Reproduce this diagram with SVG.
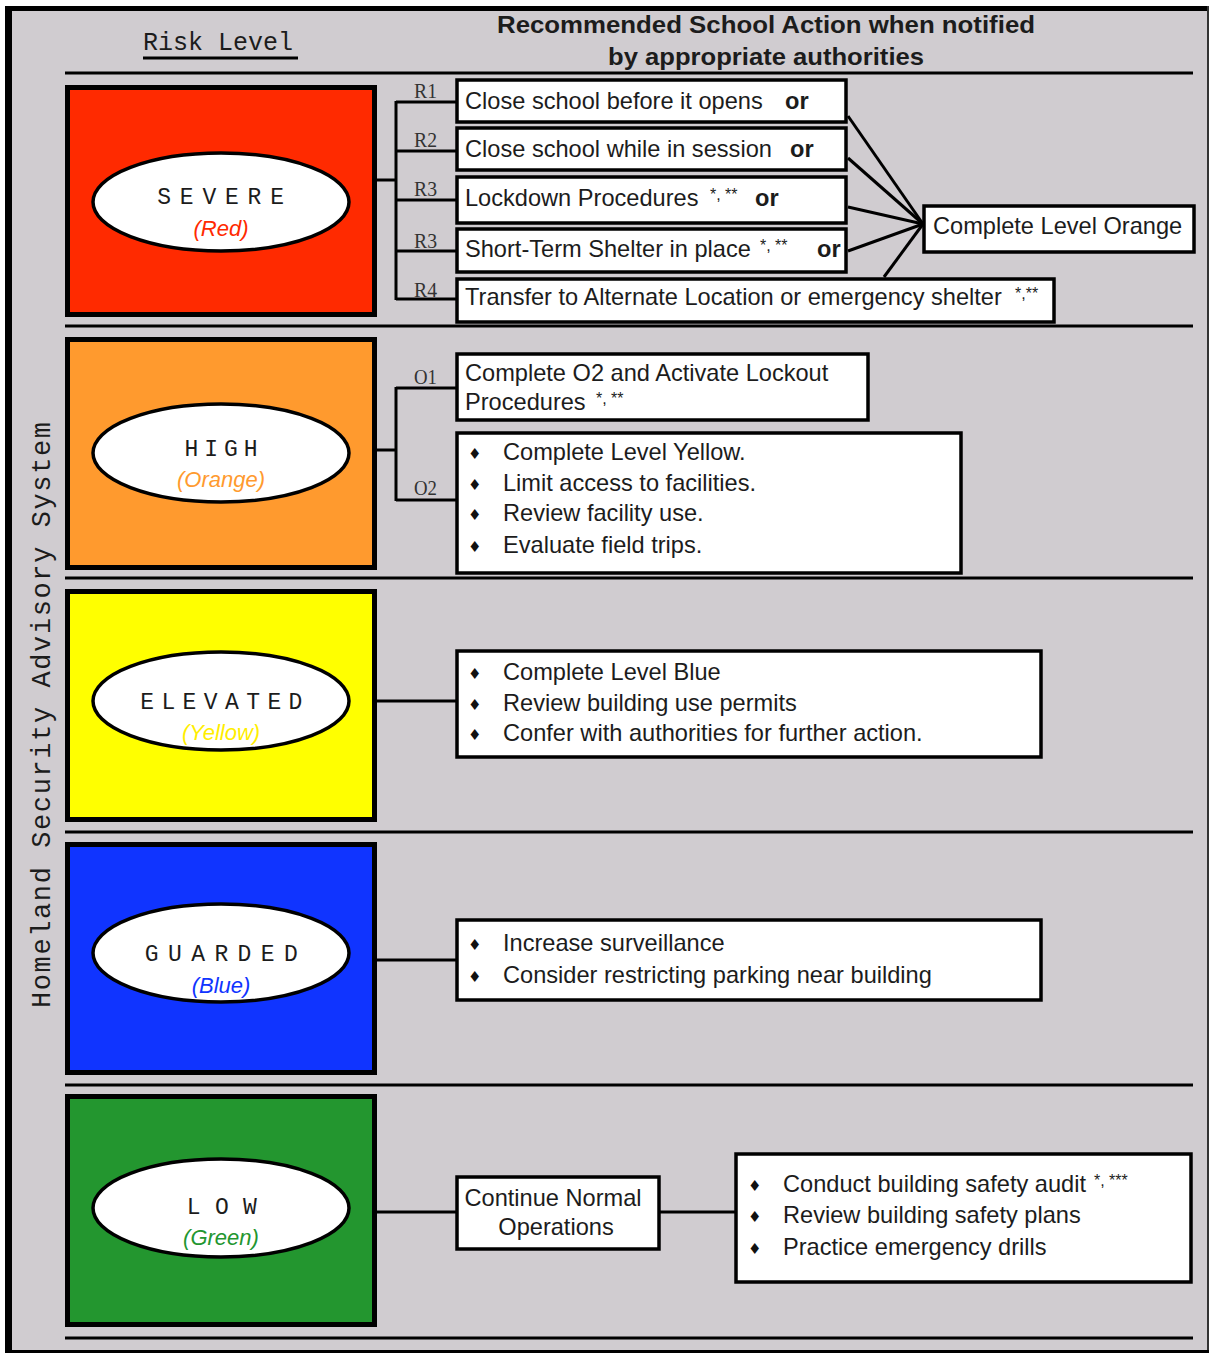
<svg xmlns="http://www.w3.org/2000/svg" width="1209" height="1353" viewBox="0 0 1209 1353">
<style>
.sans{font-family:"Liberation Sans",Arial,sans-serif;fill:#1c1c1c;font-size:23.6px}
.mono{font-family:"Liberation Mono","Courier New",monospace;fill:#1c1c1c}
.serif{font-family:"Liberation Serif","Times New Roman",serif;fill:#333;font-size:21px}
.lvl{stroke:#000;stroke-width:5}
.ell{fill:#fff;stroke:#000;stroke-width:3.5}
.box{fill:#fff;stroke:#000;stroke-width:3.5}
.sep{stroke:#000;stroke-width:3}
.con{stroke:#000;stroke-width:3;fill:none}
.sub{font-family:"Liberation Sans",Arial,sans-serif;font-style:italic;font-size:22px}
.word{font-family:"Liberation Mono","Courier New",monospace;font-size:23px;fill:#1c1c1c}
.bul{font-family:"DejaVu Sans",sans-serif;font-size:15px;fill:#111}
.sm{font-size:16px}
.b{font-weight:bold}
</style>
<rect x="0" y="0" width="1209" height="1353" fill="#fff"/>
<rect x="5" y="6" width="1204" height="1347" fill="#d0ccd0"/>
<rect x="5" y="6" width="7" height="1347" fill="#000"/>
<rect x="5" y="6" width="1204" height="5" fill="#000"/>
<rect x="1207" y="6" width="2" height="1347" fill="#333"/>
<rect x="5" y="1350" width="1204" height="3" fill="#000"/>

<g id="header">
<text class="mono" x="143" y="50" font-size="25">Risk Level</text>
<line x1="143" y1="58" x2="298" y2="58" stroke="#000" stroke-width="3"/>
<text class="sans b" x="497" y="33" font-size="25" textLength="538" lengthAdjust="spacingAndGlyphs">Recommended School Action when notified</text>
<text class="sans b" x="608" y="65" font-size="25" textLength="316" lengthAdjust="spacingAndGlyphs">by appropriate authorities</text>
<text class="mono" transform="translate(50,715) rotate(-90)" font-size="27" text-anchor="middle" textLength="586" lengthAdjust="spacing">Homeland Security Advisory System</text>
</g>

<g id="separators">
<line class="sep" x1="65" y1="73" x2="1193" y2="73"/>
<line class="sep" x1="65" y1="326" x2="1193" y2="326"/>
<line class="sep" x1="65" y1="578" x2="1193" y2="578"/>
<line class="sep" x1="65" y1="832" x2="1193" y2="832"/>
<line class="sep" x1="65" y1="1085" x2="1193" y2="1085"/>
<line class="sep" x1="65" y1="1338" x2="1193" y2="1338"/>
</g>

<g id="connectors">
<line class="con" x1="375" y1="180" x2="396" y2="180"/>
<line class="con" x1="396" y1="101" x2="396" y2="300"/>
<line class="con" x1="396" y1="102" x2="457" y2="102"/>
<line class="con" x1="396" y1="151" x2="457" y2="151"/>
<line class="con" x1="396" y1="200" x2="457" y2="200"/>
<line class="con" x1="396" y1="251" x2="457" y2="251"/>
<line class="con" x1="396" y1="299" x2="457" y2="299"/>
<line class="con" x1="848" y1="116" x2="923" y2="224"/>
<line class="con" x1="848" y1="158" x2="923" y2="224"/>
<line class="con" x1="848" y1="207" x2="923" y2="224"/>
<line class="con" x1="848" y1="251" x2="923" y2="224"/>
<line class="con" x1="884" y1="277" x2="923" y2="224"/>
<line class="con" x1="375" y1="450" x2="396" y2="450"/>
<line class="con" x1="396" y1="387" x2="396" y2="501"/>
<line class="con" x1="396" y1="388" x2="457" y2="388"/>
<line class="con" x1="396" y1="500" x2="457" y2="500"/>
<line class="con" x1="375" y1="701" x2="457" y2="701"/>
<line class="con" x1="375" y1="960" x2="457" y2="960"/>
<line class="con" x1="375" y1="1212" x2="457" y2="1212"/>
<line class="con" x1="660" y1="1212" x2="736" y2="1212"/>
<text class="serif" x="414" y="98" textLength="23" lengthAdjust="spacingAndGlyphs">R1</text>
<text class="serif" x="414" y="147" textLength="23" lengthAdjust="spacingAndGlyphs">R2</text>
<text class="serif" x="414" y="196" textLength="23" lengthAdjust="spacingAndGlyphs">R3</text>
<text class="serif" x="414" y="248" textLength="23" lengthAdjust="spacingAndGlyphs">R3</text>
<text class="serif" x="414" y="297" textLength="23" lengthAdjust="spacingAndGlyphs">R4</text>
<text class="serif" x="414" y="384" textLength="23" lengthAdjust="spacingAndGlyphs">O1</text>
<text class="serif" x="414" y="495" textLength="23" lengthAdjust="spacingAndGlyphs">O2</text>
</g>

<g id="severe">
<rect class="lvl" x="67.5" y="87.5" width="307" height="227" fill="#ff2a00"/>
<ellipse class="ell" cx="221" cy="202" rx="128" ry="49"/>
<text class="word" x="225" y="204" text-anchor="middle" letter-spacing="8.8">SEVERE</text>
<text class="sub" x="221" y="236" text-anchor="middle" fill="#ff2a00">(Red)</text>
</g>
<g id="high">
<rect class="lvl" x="67.5" y="339.5" width="307" height="228" fill="#ff9a2e"/>
<ellipse class="ell" cx="221" cy="453" rx="128" ry="49"/>
<text class="word" x="224" y="456" text-anchor="middle" letter-spacing="5.9">HIGH</text>
<text class="sub" x="221" y="487" text-anchor="middle" fill="#ff9a2e">(Orange)</text>
</g>
<g id="elevated">
<rect class="lvl" x="67.5" y="591.5" width="307" height="228" fill="#ffff00"/>
<ellipse class="ell" cx="221" cy="701" rx="128" ry="49"/>
<text class="word" x="225" y="709" text-anchor="middle" letter-spacing="7.4">ELEVATED</text>
<text class="sub" x="221" y="740" text-anchor="middle" fill="#ffee00">(Yellow)</text>
</g>
<g id="guarded">
<rect class="lvl" x="67.5" y="844.5" width="307" height="228" fill="#1034ff"/>
<ellipse class="ell" cx="221" cy="953" rx="128" ry="49"/>
<text class="word" x="226" y="961" text-anchor="middle" letter-spacing="9.4">GUARDED</text>
<text class="sub" x="221" y="993" text-anchor="middle" fill="#1034ff">(Blue)</text>
</g>
<g id="low">
<rect class="lvl" x="67.5" y="1096.5" width="307" height="228" fill="#23962f"/>
<ellipse class="ell" cx="221" cy="1208" rx="128" ry="49"/>
<text class="word" x="229" y="1214" text-anchor="middle" letter-spacing="14.3">LOW</text>
<text class="sub" x="221" y="1245" text-anchor="middle" fill="#23962f">(Green)</text>
</g>

<g id="r1">
<rect class="box" x="457" y="80" width="389" height="42"/>
<text class="sans" x="465" y="109">Close school before it opens<tspan class="b" x="785">or</tspan></text>
</g>
<g id="r2">
<rect class="box" x="457" y="128" width="389" height="42"/>
<text class="sans" x="465" y="157">Close school while in session<tspan class="b" x="790">or</tspan></text>
</g>
<g id="r3a">
<rect class="box" x="457" y="177" width="389" height="46"/>
<text class="sans" x="465" y="206">Lockdown Procedures<tspan class="sm" x="710" dy="-6">*, **</tspan><tspan class="b" x="755" dy="6">or</tspan></text>
</g>
<g id="r3b">
<rect class="box" x="457" y="229" width="389" height="43"/>
<text class="sans" x="465" y="257">Short-Term Shelter in place<tspan class="sm" x="760" dy="-6">*, **</tspan><tspan class="b" x="817" dy="6">or</tspan></text>
</g>
<g id="r4">
<rect class="box" x="457" y="279" width="597" height="43"/>
<text class="sans" x="465" y="305">Transfer to Alternate Location or emergency shelter<tspan class="sm" x="1015" dy="-6">*,**</tspan></text>
</g>
<g id="orange-complete">
<rect class="box" x="924" y="206" width="270" height="46"/>
<text class="sans" x="933" y="234">Complete Level Orange</text>
</g>

<g id="o1">
<rect class="box" x="457" y="354" width="411" height="66"/>
<text class="sans" x="465" y="381">Complete O2 and Activate Lockout</text>
<text class="sans" x="465" y="410">Procedures <tspan class="sm" x="596" dy="-6">*, **</tspan></text>
</g>
<g id="o2">
<rect class="box" x="457" y="433" width="504" height="140"/>
<text class="bul" x="468" y="459">♦</text><text class="sans" x="503" y="460">Complete Level Yellow.</text>
<text class="bul" x="468" y="490">♦</text><text class="sans" x="503" y="491">Limit access to facilities.</text>
<text class="bul" x="468" y="520">♦</text><text class="sans" x="503" y="521">Review facility use.</text>
<text class="bul" x="468" y="552">♦</text><text class="sans" x="503" y="553">Evaluate field trips.</text>
</g>

<g id="yellow-actions">
<rect class="box" x="457" y="651" width="584" height="106"/>
<text class="bul" x="468" y="679">♦</text><text class="sans" x="503" y="680">Complete Level Blue</text>
<text class="bul" x="468" y="710">♦</text><text class="sans" x="503" y="711">Review building use permits</text>
<text class="bul" x="468" y="740">♦</text><text class="sans" x="503" y="741">Confer with authorities for further action.</text>
</g>

<g id="blue-actions">
<rect class="box" x="457" y="920" width="584" height="80"/>
<text class="bul" x="468" y="950">♦</text><text class="sans" x="503" y="951">Increase surveillance</text>
<text class="bul" x="468" y="982">♦</text><text class="sans" x="503" y="983">Consider restricting parking near building</text>
</g>

<g id="normal">
<rect class="box" x="457" y="1177" width="202" height="72"/>
<text class="sans" x="553" y="1206" text-anchor="middle">Continue Normal</text>
<text class="sans" x="556" y="1235" text-anchor="middle">Operations</text>
</g>
<g id="green-actions">
<rect class="box" x="736" y="1154" width="455" height="128"/>
<text class="bul" x="748" y="1191">♦</text><text class="sans" x="783" y="1192">Conduct building safety audit<tspan class="sm" x="1094" dy="-6">*, ***</tspan></text>
<text class="bul" x="748" y="1222">♦</text><text class="sans" x="783" y="1223">Review building safety plans</text>
<text class="bul" x="748" y="1254">♦</text><text class="sans" x="783" y="1255">Practice emergency drills</text>
</g>
</svg>
